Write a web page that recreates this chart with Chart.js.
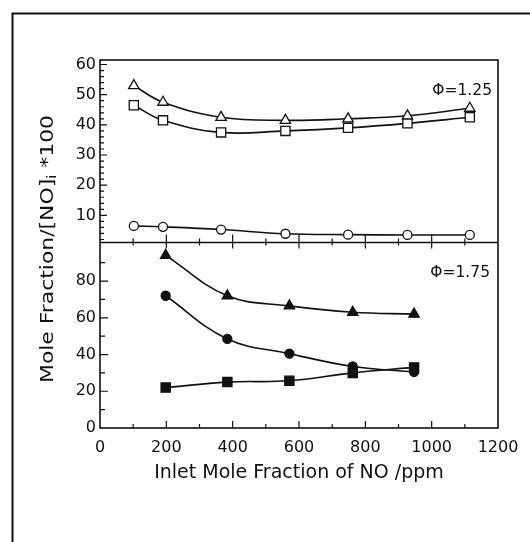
<!DOCTYPE html>
<html>
<head>
<meta charset="utf-8">
<script src="https://cdn.jsdelivr.net/npm/chart.js@4.4.1/dist/chart.umd.min.js"></script>
<style>
  html, body { margin: 0; padding: 0; background: #fff; }
  #wrap { width: 530px; height: 542px; }
</style>
</head>
<body>
<div id="wrap"><canvas id="noChart" width="530" height="542"></canvas></div>
<script>
// phi = 1.25 (upper panel, open symbols)
const topNO = [102, 190, 365, 559, 748, 927, 1115];
const topTriangle = [53, 47.5, 42.5, 41.5, 42, 43, 45.5];
const topSquare = [46.5, 41.5, 37.5, 38, 39, 40.5, 42.5];
const topCircle = [6.5, 6.2, 5.3, 3.9, 3.6, 3.5, 3.5];

// phi = 1.75 (lower panel, filled symbols)
const lowNO = [198, 384, 571, 762, 947];
const lowTriangle = [94, 72, 66.5, 63, 62];
const lowCircle = [72, 48.5, 40.5, 33.5, 30.5];
const lowSquare = [22, 25, 25.7, 30, 33];

const xTicks = [0, 200, 400, 600, 800, 1000, 1200];
const topTicks = [10, 20, 30, 40, 50, 60];
const lowTicks = [0, 20, 40, 60, 80];

const font = "'DejaVu Sans', 'Liberation Sans', sans-serif";

function pts(xs, ys) {
  return xs.map((x, i) => ({x: x, y: ys[i]}));
}

function series(xs, ys, axis, style, filled, r) {
  return {
    data: pts(xs, ys),
    yAxisID: axis,
    borderColor: '#111',
    borderWidth: 1.6,
    tension: 0.4,
    pointStyle: style,
    pointRadius: r,
    pointBorderWidth: 1.3,
    pointBorderColor: '#111',
    pointBackgroundColor: filled ? '#111' : '#fff',
    fill: false
  };
}

// frame, inward ticks, outer box, phi labels and the y title
const decor = {
  id: 'decor',
  afterDraw(chart) {
    const c = chart.ctx;
    const a = chart.chartArea;
    const x = chart.scales.x, yt = chart.scales.yTop, yb = chart.scales.yBot;
    const mid = yt.bottom;
    c.save();
    c.strokeStyle = '#111';
    c.lineWidth = 1.6;
    c.strokeRect(a.left, a.top, a.right - a.left, a.bottom - a.top);
    c.beginPath();
    c.moveTo(a.left, mid); c.lineTo(a.right, mid);
    c.stroke();

    c.lineWidth = 1.2;
    c.beginPath();
    for (let v = 100; v < 1200; v += 100) {
      const px = x.getPixelForValue(v);
      const major = v % 200 === 0;
      c.moveTo(px, a.bottom); c.lineTo(px, a.bottom - (major ? 7 : 4));
      c.moveTo(px, mid); c.lineTo(px, mid - (major ? 8 : 4));
      c.moveTo(px, mid); c.lineTo(px, mid + (major ? 6 : 3));
    }
    for (let v = 2; v <= 60; v += 2) {
      const py = yt.getPixelForValue(v);
      c.moveTo(a.left, py); c.lineTo(a.left + (v % 10 === 0 ? 7 : 4), py);
    }
    for (let v = 10; v <= 90; v += 10) {
      const py = yb.getPixelForValue(v);
      c.moveTo(a.left, py); c.lineTo(a.left + (v % 20 === 0 ? 8 : 5), py);
    }
    c.stroke();

    // outer box of the figure
    c.lineWidth = 2;
    c.beginPath();
    c.moveTo(12.5, 542); c.lineTo(12.5, 13.5); c.lineTo(530, 13.5);
    c.stroke();

    c.fillStyle = '#111';
    c.font = '15.5px ' + font;
    c.textAlign = 'right';
    c.textBaseline = 'middle';
    c.fillText('\u03A6=1.25', a.right - 6, 91);
    c.fillText('\u03A6=1.75', a.right - 8, 273);

    // y title with subscript i, stretched to the length seen in the figure
    c.translate(48, 249);
    c.rotate(-Math.PI / 2);
    c.textAlign = 'left';
    c.textBaseline = 'middle';
    const p1 = 'Mole Fraction/[NO]', p2 = 'i', p3 = ' *100';
    c.font = '18px ' + font;
    const w1 = c.measureText(p1).width, w3 = c.measureText(p3).width;
    c.font = '12px ' + font;
    const w2 = c.measureText(p2).width;
    const total = w1 + w2 + w3;
    c.scale(268 / total, 1);
    let sx = -total / 2;
    c.font = '18px ' + font;
    c.fillText(p1, sx, 0);
    c.font = '12px ' + font;
    c.fillText(p2, sx + w1, 5);
    c.font = '18px ' + font;
    c.fillText(p3, sx + w1 + w2, 0);
    c.restore();
  }
};

const ctx = document.getElementById('noChart');

const chart = new Chart(ctx, {
  type: 'line',
  data: {
    datasets: [
      series(topNO, topTriangle, 'yTop', 'triangle', false, 6),
      series(topNO, topSquare, 'yTop', 'rect', false, 6.5),
      series(topNO, topCircle, 'yTop', 'circle', false, 4.5),
      series(lowNO, lowTriangle, 'yBot', 'triangle', true, 6),
      series(lowNO, lowCircle, 'yBot', 'circle', true, 4.5),
      series(lowNO, lowSquare, 'yBot', 'rect', true, 6.5)
    ]
  },
  options: {
    responsive: false,
    animation: false,
    events: [],
    layout: { padding: { left: 0, right: 32, top: 60, bottom: 58 } },
    plugins: { legend: { display: false }, tooltip: { enabled: false } },
    scales: {
      x: {
        type: 'linear',
        min: 0,
        max: 1200,
        afterBuildTicks: s => { s.ticks = xTicks.map(v => ({value: v})); },
        afterFit: s => { s.height = 56; },
        grid: { display: false, drawTicks: false },
        border: { display: false },
        ticks: {
          color: '#111',
          padding: 10,
          autoSkip: false,
          maxRotation: 0,
          font: { family: font, size: 16 },
          callback: v => String(v)
        },
        title: {
          display: true,
          text: 'Inlet Mole Fraction of NO /ppm',
          color: '#111',
          padding: { top: 0, bottom: 0 },
          font: { family: font, size: 19 }
        }
      },
      yBot: {
        type: 'linear',
        position: 'left',
        stack: 'panels',
        stackWeight: 185,
        min: 0,
        max: 101,
        afterBuildTicks: s => { s.ticks = lowTicks.map(v => ({value: v})); },
        afterFit: s => { s.width = 100; },
        grid: { display: false, drawTicks: false },
        border: { display: false },
        ticks: { color: '#111', padding: 4, autoSkip: false, font: { family: font, size: 16 } }
      },
      yTop: {
        type: 'linear',
        position: 'left',
        stack: 'panels',
        stackWeight: 182,
        min: 1,
        max: 61.5,
        afterBuildTicks: s => { s.ticks = topTicks.map(v => ({value: v})); },
        afterFit: s => { s.width = 100; },
        grid: { display: false, drawTicks: false },
        border: { display: false },
        ticks: { color: '#111', padding: 4, autoSkip: false, font: { family: font, size: 16 } }
      }
    }
  },
  plugins: [decor]
});
</script>
</body>
</html>
